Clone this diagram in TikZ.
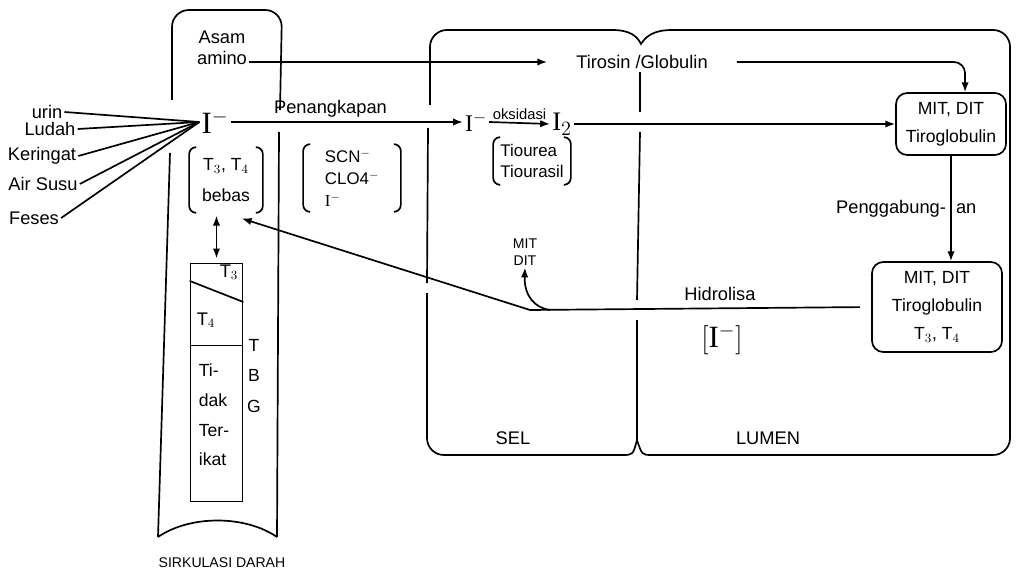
\documentclass[tikz,border=0pt]{standalone}
\usepackage{fontspec}
\setmainfont{Liberation Sans}
\newfontfamily\serifI{Liberation Serif}
\usetikzlibrary{arrows.meta}
\newcommand{\drawbrackets}[1]{%
  \draw[rounded corners=5pt] ([xshift=5pt]#1.north west) -- (#1.north west) -- (#1.south west) -- ([xshift=5pt]#1.south west);
  \draw[rounded corners=5pt] ([xshift=-5pt]#1.north east) -- (#1.north east) -- (#1.south east) -- ([xshift=-5pt]#1.south east);}
\newcommand{\iod}{{\serifI I}}
\tikzset{
  txt/.style={font=\fontsize{13}{15}\selectfont, inner sep=1pt},
  small/.style={font=\fontsize{10}{12}\selectfont, inner sep=1pt},
  bigI/.style={font=\fontsize{22}{24}\selectfont, inner sep=1pt},
  tgbox/.style={draw, rounded corners=8pt, align=center, font=\fontsize{12.5}{20}\selectfont},
  brak/.style={align=left, inner sep=0pt, font=\fontsize{12}{15.5}\selectfont},
}
\begin{document}
\begin{tikzpicture}[x=0.025cm, y=-0.025cm, very thick, >={Latex[length=7pt]}]
    \useasboundingbox (0,0) rectangle (1016,583);
    % sirkulasi darah
    \draw[rounded corners=12pt] (172,100) -- (172,10) -- (282,10) -- (280,110);
    \draw (279,132) -- (277,537);
    \draw (170,153) -- (158,537);
    \draw (158,537) .. controls (190,515) and (245,515) .. (277,537);
    \node[small] (darah) at (222,563) {SIRKULASI DARAH};
    % sel and lumen
    \draw[rounded corners=12pt] (430,105) -- (430,30) -- (612,30);
    \draw (612,30) .. controls (630,30) and (637,36) .. (641,44) .. controls (646,36) and (654,30) .. (672,30);
    \draw[rounded corners=12pt] (672,30) -- (1010,30) -- (1010,455) -- (652,455);
    \draw (652,455) .. controls (642,455) .. (637,440) .. controls (633,455) .. (622,455);
    \draw[rounded corners=12pt] (622,455) -- (427,455) -- (427,293);
    \draw (427,283) -- (428,128);
    \draw (640,72) -- (640,112);
    \draw (640,132) -- (637,300);
    \draw (637,320) -- (637,440);
    \node[txt] (sel) at (513,438) {SEL};
    \node[txt] (lumen) at (768,438) {LUMEN};
    % sources
    \node[bigI] (iblood) at (215,122) {\iod$^-$};
    \node[txt] (urin) at (47,112) {urin};
    \node[txt] (ludah) at (50,129) {Ludah};
    \node[txt] (keringat) at (42,156) {Keringat};
    \node[txt] (airsusu) at (43,184) {Air Susu};
    \node[txt] (feses) at (34,218) {Feses};
    \foreach \src in {urin, ludah, keringat, airsusu, feses}
        \draw (\src.east) -- (iblood.west);
    \node[txt, align=center] (asam) at (222,48) {Asam\\amino};
    \node[brak, align=center, minimum width=1.8cm, minimum height=1.6cm, font=\fontsize{12.5}{22}\selectfont] (bebas) at (226,180) {T$_3$, T$_4$\\bebas};
    \drawbrackets{bebas}
    % TBG
    \node[draw, minimum width=1.3cm, minimum height=5.95cm] (tbg) at (216.5,382.5) {};
    \draw ([yshift=-13pt]tbg.north west) -- ([yshift=-28pt]tbg.north east);
    \draw ([yshift=-59pt]tbg.north west) -- ([yshift=-59pt]tbg.north east);
    \node[txt] (t3) at (229,272) {T$_3$};
    \node[txt] (t4) at (206,320) {T$_4$};
    \node[txt, align=left, font=\fontsize{12.5}{21}\selectfont] (tidak) at (214,415) {Ti-\\dak\\Ter-\\ikat};
    \node[txt, align=center, font=\fontsize{12.5}{22}\selectfont] (tbglabel) at (254,376) {T\\B\\G};
    \draw[<->, shorten <=2pt, shorten >=3pt] (tbg.north |- bebas.south) -- (tbg.north);
    % penangkapan and oksidasi
    \node[brak, minimum width=2.4cm, minimum height=1.65cm] (scn) at (352,178) {SCN$^-$\\CLO4$^-$\\\iod$^-$};
    \drawbrackets{scn}
    \node[font=\fontsize{17}{19}\selectfont, inner sep=1pt] (icell) at (476,122) {\iod$^-$};
    \node[font=\fontsize{19}{21}\selectfont, inner sep=1pt] (i2) at (562,124) {\iod$_2$};
    \node[brak, minimum width=1.9cm, minimum height=1.15cm] (tiou) at (532,161) {Tiourea\\Tiourasil};
    \drawbrackets{tiou}
    \draw[->] (iblood.east) -- (icell.west) node[txt, pos=0.43, above=2pt] {Penangkapan};
    \draw[->] (icell.east) -- (i2.west) node[midway, above=1pt, inner sep=1pt, font=\fontsize{10.5}{12}\selectfont] {oksidasi};
    % tiroglobulin
    \node[txt, minimum width=4.7cm] (tirosin) at (642,62) {Tirosin /Globulin};
    \node[tgbox, minimum width=2.75cm, minimum height=1.55cm] (box1) at (951,124) {MIT, DIT\\Tiroglobulin};
    \node[tgbox, minimum width=3.25cm, minimum height=2.25cm] (box2) at (937,307) {MIT, DIT\\Tiroglobulin\\T$_3$, T$_4$};
    \draw[->] (asam.east |- tirosin.west) -- (tirosin.west);
    \draw[->, rounded corners=8pt] (tirosin.east) -| ([xshift=10pt]box1.north);
    \draw[->] (i2.east) -- (box1.west |- i2.east);
    \draw[->] (box1.south) -- (box1.south |- box2.north)
        node[txt, midway, left=2pt] {Penggabung-} node[txt, midway, right=2pt] {an};
    % hidrolisa
    \coordinate (kink) at (530,310);
    \coordinate (fork) at (550,310);
    \node[txt] (hidro) at (720,294) {Hidrolisa};
    \node[bigI] (ilumen) at (722,340) {$[$\iod$^-]$};
    \node[small, align=center] (mitdit) at (525,252) {MIT\\DIT};
    \draw[->, shorten <=8pt] (box2.west) -- (kink) -- ([xshift=-15pt,yshift=-4pt]bebas.south east);
    \draw[->] (fork) .. controls (535,308) and (524,296) .. (mitdit.south);
\end{tikzpicture}
\end{document}
